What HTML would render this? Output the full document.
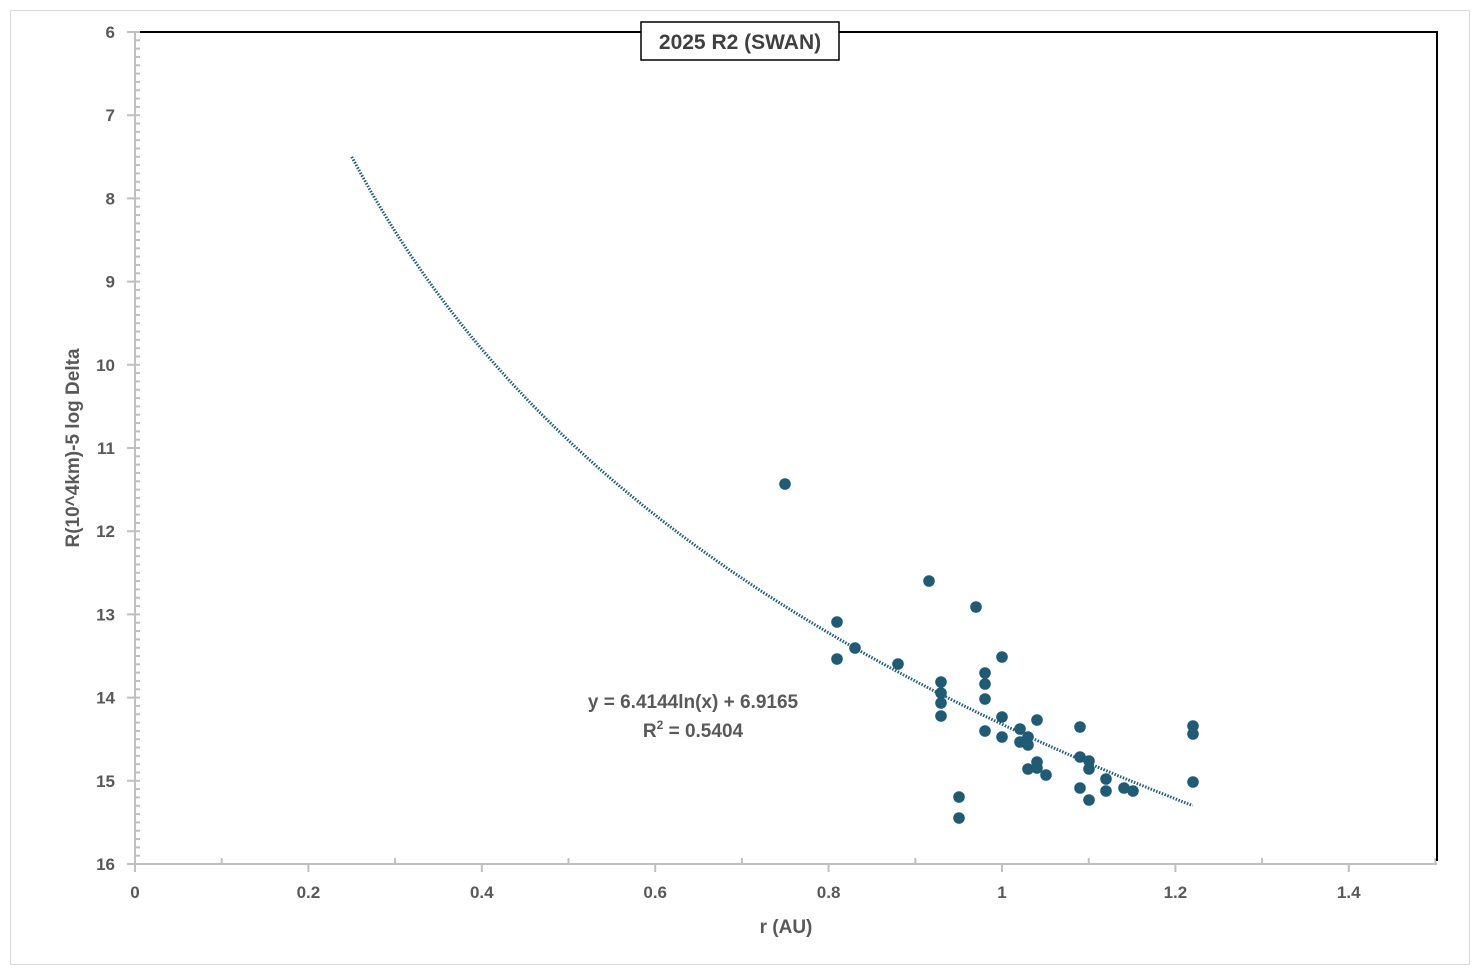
<!DOCTYPE html>
<html><head><style>body{margin:0;background:#fff}svg{display:block}</style></head><body>
<svg width="1480" height="973" xmlns="http://www.w3.org/2000/svg" font-family="Liberation Sans, sans-serif">
<rect x="10.5" y="10.5" width="1459" height="954" fill="#fff" stroke="#d9d9d9"/>
<g id="yt" stroke="#bfbfbf" stroke-width="2"></g>
<line x1="135" y1="31" x2="135" y2="865" stroke="#bfbfbf" stroke-width="2"/>
<line x1="127" y1="864" x2="1437" y2="864" stroke="#bfbfbf" stroke-width="2"/>
<line x1="140" y1="32" x2="1438" y2="32" stroke="#000" stroke-width="2"/>
<line x1="1437" y1="31" x2="1437" y2="861" stroke="#000" stroke-width="2"/>
<g id="g" font-size="17" font-weight="bold" fill="#595959"></g>
<polyline id="tr" fill="none" stroke="#1f5f7a" stroke-width="3" stroke-dasharray="1.5 1.5"/>
<g id="pts" fill="#1f5b75"></g>
<rect x="641" y="22" width="198" height="38" fill="#fff" stroke="#000" stroke-width="1.5"/>
<text x="740" y="49" text-anchor="middle" font-size="21" font-weight="bold" fill="#404040">2025 R2 (SWAN)</text>
<text x="693" y="708" text-anchor="middle" font-size="19" font-weight="bold" fill="#595959">y = 6.4144ln(x) + 6.9165</text>
<text x="693" y="737" text-anchor="middle" font-size="19" font-weight="bold" fill="#595959">R<tspan font-size="12" dy="-8">2</tspan><tspan dy="8"> = 0.5404</tspan></text>
<text x="786" y="933" text-anchor="middle" font-size="19" font-weight="bold" fill="#595959">r (AU)</text>
<text transform="translate(79,448) rotate(-90)" text-anchor="middle" font-size="19" font-weight="bold" fill="#595959">R(10^4km)-5 log Delta</text>
</svg>
<script>
const ns="http://www.w3.org/2000/svg";
function el(p,t,a,txt){const e=document.createElementNS(ns,t);for(const k in a)e.setAttribute(k,a[k]);if(txt!==undefined)e.textContent=txt;document.getElementById(p).appendChild(e);}
const X=v=>135+v*867, Y=v=>32+(v-6)*83.2;
for(let i=0;i<=100;i++){const y=Y(6+i/10);if(i%10==0)el('yt','line',{x1:127,y1:y,x2:140,y2:y});else el('yt','line',{x1:135,y1:y,x2:140,y2:y});}
for(let i=0;i<=15;i++){const x=X(i/10);el('yt','line',{x1:x,y1:i%2==0?872:858,x2:x,y2:864});}
for(let v=6;v<=16;v++)el('g','text',{x:115,y:Y(v)+6,'text-anchor':'end'},v);
[0,0.2,0.4,0.6,0.8,1,1.2,1.4].forEach(v=>el('g','text',{x:X(v),y:898,'text-anchor':'middle'},String(v)));
let pts=[];for(let x=0.25;x<=1.2201;x+=0.005)pts.push(X(x).toFixed(1)+','+Y(4.92*Math.log(x)+14.32).toFixed(1));
document.getElementById('tr').setAttribute('points',pts.join(' '));
[[785,484],[929,581],[976,607],[837,622],[837,659],[855,648],[898,664],[1002,657],[985,673],[941,682],[985,684],[941,693],[941,703],[985,699],[941,716],[1002,717],[1037,720],[985,731],[1002,737],[1020,729],[1020,742],[1028,737],[1028,745],[1080,727],[1193,726],[1193,734],[1080,757],[1089,761],[1037,762],[1028,769],[1037,768],[1089,769],[1046,775],[1106,779],[1193,782],[1080,788],[1106,791],[1124,788],[1133,791],[959,797],[1089,800],[959,818]].forEach(p=>el('pts','circle',{cx:p[0],cy:p[1],r:5.8}));
</script>
</body></html>
